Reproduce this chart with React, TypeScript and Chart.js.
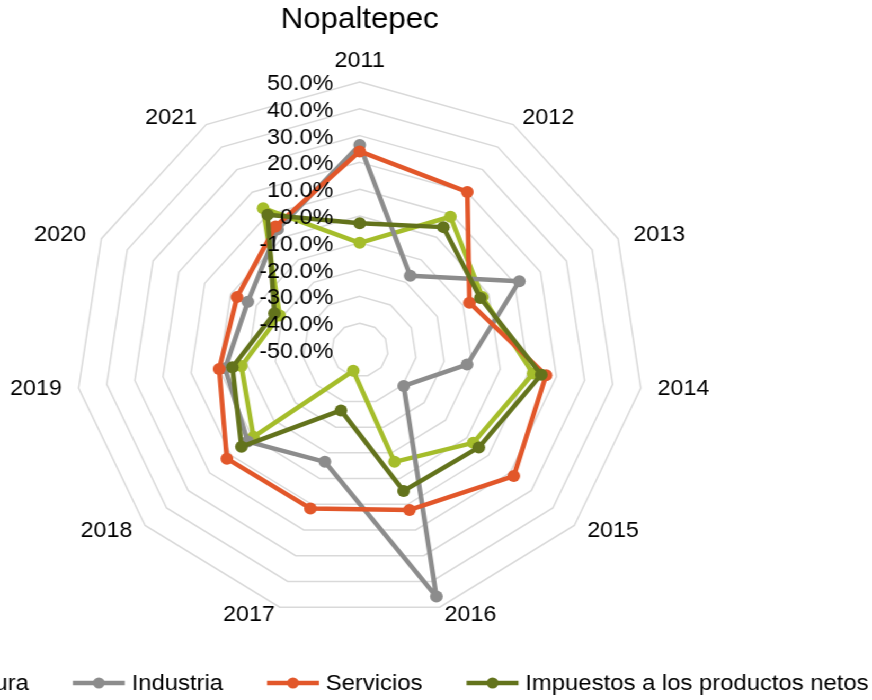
import React, { useEffect, useRef } from 'react';
import { Chart, registerables } from 'chart.js';

Chart.register(...registerables);

// ---- data ----
const chartTitle = 'Nopaltepec';
const categories = ['2011', '2012', '2013', '2014', '2015', '2016', '2017', '2018', '2019', '2020', '2021'];
const seriesNames = ['Agricultura', 'Industria', 'Servicios', 'Impuestos a los productos netos'];
const agricultura = [-10.0, 9.1, -2.5, 11.7, 2.9, -6.5, -41.9, -0.5, -7.9, -19.0, 12.9];
const industria = [26.5, -17.1, 11.8, -11.8, -29.5, 45.9, -6.5, 2.2, -2.1, -6.7, 3.5];
const servicios = [24.1, 20.1, -7.5, 16.3, 21.8, 12.2, 11.6, 11.9, 0.0, -2.5, 4.8];
const impuestos = [-2.7, 4.5, -3.3, 14.6, 5.5, 4.8, -26.5, 5.1, -4.7, -17.0, 10.0];
const tickValues = [-50, -40, -30, -20, -10, 0, 10, 20, 30, 40, 50];

// ---- styles ----
const seriesColors = ['#A5BD2B', '#8C8C8C', '#E2572A', '#63731C'];
const FONT = '"Liberation Sans", Arial, Helvetica, sans-serif';
const W = 823;
const H = 700;
const STRETCH = 872 / W;
const CX = 339.5;
const RADIUS = 268;
const CA_TOP = 82;

const overlayPlugin = {
  id: 'overlay',
  afterDraw(chart: any) {
    const ctx = chart.ctx;
    const scale = chart.scales.r;
    ctx.save();
    ctx.font = `22px ${FONT}`;
    ctx.fillStyle = '#000';

    // category labels
    categories.forEach((c, i) => {
      const p = scale.getPointPosition(i, scale.drawingArea);
      const a = scale.getIndexAngle(i);
      const s = Math.sin(a);
      const co = Math.cos(a);
      ctx.textBaseline = 'middle';
      if (Math.abs(s) < 0.01) {
        ctx.textAlign = 'center';
        ctx.fillText(c, p.x, p.y - 21 * co);
      } else {
        ctx.textAlign = s > 0 ? 'left' : 'right';
        ctx.fillText(c, p.x + 16 * s, p.y - 8 * co);
      }
    });

    // tick labels
    ctx.textAlign = 'right';
    ctx.textBaseline = 'middle';
    tickValues.forEach((v) => {
      const d = scale.getDistanceFromCenterForValue(v);
      ctx.fillText(v.toFixed(1) + '%', scale.xCenter - 25, scale.yCenter - d + 2);
    });

    // legend
    ctx.font = `22.5px ${FONT}`;
    const lineLen = 49;
    const gapText = 6.5;
    const itemGap = 41.5;
    const widths = seriesNames.map((n) => ctx.measureText(n).width);
    const total =
      widths.reduce((acc: number, w: number) => acc + lineLen + gapText + w, 0) + itemGap * (seriesNames.length - 1);
    let x = 342 - total / 2;
    const y = 683;
    seriesNames.forEach((name, i) => {
      ctx.strokeStyle = seriesColors[i];
      ctx.lineWidth = 4.5;
      ctx.beginPath();
      ctx.moveTo(x, y);
      ctx.lineTo(x + lineLen, y);
      ctx.stroke();
      ctx.fillStyle = seriesColors[i];
      ctx.beginPath();
      ctx.arc(x + lineLen / 2, y, 5.5, 0, Math.PI * 2);
      ctx.fill();
      ctx.fillStyle = '#000';
      ctx.textAlign = 'left';
      ctx.textBaseline = 'middle';
      ctx.fillText(name, x + lineLen + gapText, y + 1);
      x += lineLen + gapText + widths[i] + itemGap;
    });
    ctx.restore();
  },
};

export default function App() {
  const ref = useRef<HTMLCanvasElement | null>(null);

  useEffect(() => {
    document.body.style.margin = '0';
    document.body.style.overflow = 'hidden';
    const canvas = ref.current;
    if (!canvas) return;
    const seriesData = [agricultura, industria, servicios, impuestos];
    const chart = new Chart(canvas, {
      type: 'radar',
      data: {
        labels: categories,
        datasets: seriesNames.map((name, i) => ({
          label: name,
          data: seriesData[i],
          borderColor: seriesColors[i],
          backgroundColor: seriesColors[i],
          pointBackgroundColor: seriesColors[i],
          pointBorderColor: seriesColors[i],
          borderWidth: 4.5,
          pointRadius: 6,
          pointBorderWidth: 0,
          borderJoinStyle: 'round' as const,
          fill: false,
          tension: 0,
          order: seriesNames.length - i,
        })),
      },
      options: {
        responsive: false,
        animation: false,
        devicePixelRatio: 1,
        layout: {
          padding: { left: CX - RADIUS, right: W - (CX + RADIUS), top: 0, bottom: H - (CA_TOP + 2 * RADIUS) },
        },
        plugins: {
          legend: { display: false },
          tooltip: { enabled: false },
          title: {
            display: true,
            text: chartTitle,
            color: '#000',
            font: { size: 29.5, family: FONT, weight: 'normal' as const, lineHeight: 1.2 },
            padding: { top: 2.6, bottom: CA_TOP - 2.6 - 29.5 * 1.2 },
          },
        },
        scales: {
          r: {
            min: -50,
            max: 50,
            ticks: { stepSize: 10, display: false },
            grid: { color: '#D9D9D9', lineWidth: 1.5 },
            angleLines: { display: false },
            pointLabels: { display: false },
            afterFit: (s: any) => {
              const ca = s.chart.chartArea;
              s.xCenter = (ca.left + ca.right) / 2;
              s.yCenter = (ca.top + ca.bottom) / 2;
              s.drawingArea = Math.min(ca.right - ca.left, ca.bottom - ca.top) / 2;
            },
          },
        },
      },
      plugins: [overlayPlugin],
    });
    return () => chart.destroy();
  }, []);

  return (
    <div style={{ width: W, height: H, transform: `scaleX(${STRETCH})`, transformOrigin: '0 0', background: '#fff' }}>
      <canvas ref={ref} width={W} height={H} style={{ display: 'block' }} />
    </div>
  );
}
